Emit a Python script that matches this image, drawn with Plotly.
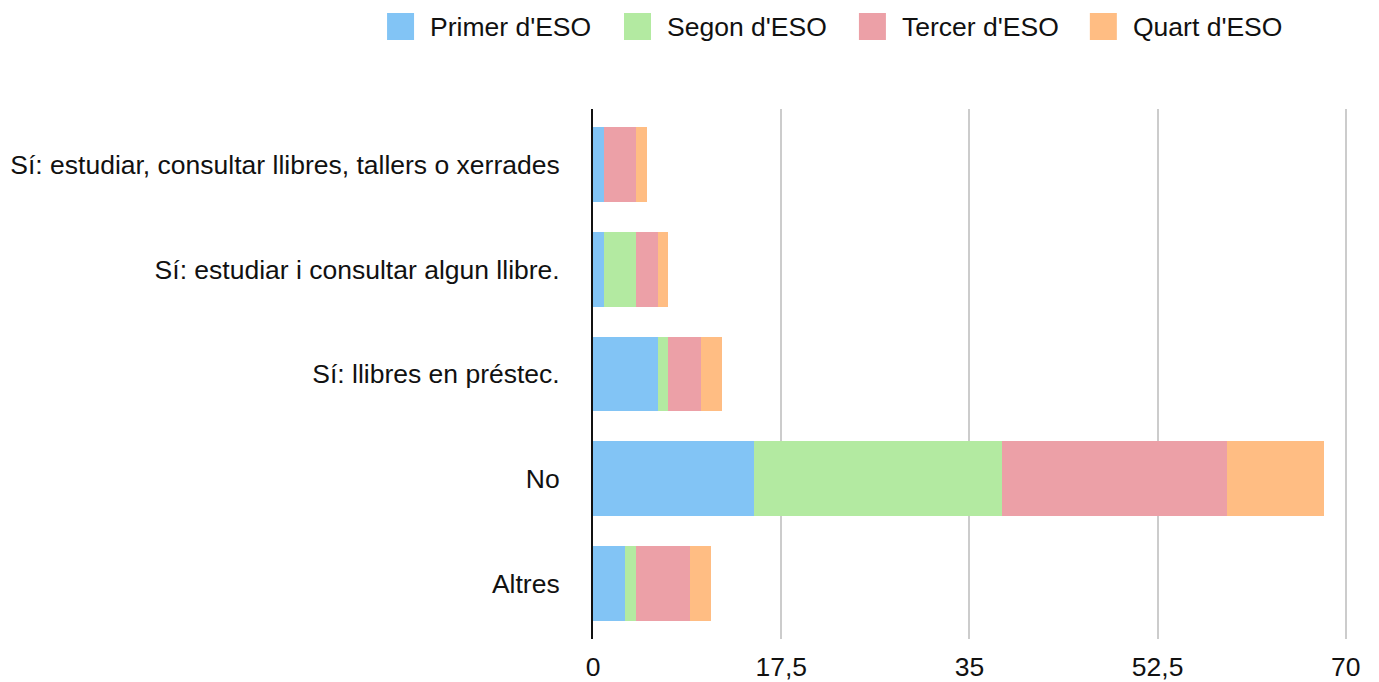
import plotly.graph_objects as go

# categories (top to bottom) and values per course
categories = [
    "Sí: estudiar, consultar llibres, tallers o xerrades",
    "Sí: estudiar i consultar algun llibre.",
    "Sí: llibres en préstec.",
    "No",
    "Altres",
]
series_names = ["Primer d'ESO", "Segon d'ESO", "Tercer d'ESO", "Quart d'ESO"]
primer = [1, 1, 6, 15, 3]
segon = [0, 3, 1, 23, 1]
tercer = [3, 2, 3, 21, 5]
quart = [1, 1, 2, 9, 2]
tick_vals = [0, 17.5, 35, 52.5, 70]
tick_text = ["0", "17,5", "35", "52,5", "70"]

colors = ["#82C4F5", "#B3EAA1", "#ECA0A7", "#FFBD83"]
FONT = "Liberation Sans, Arial, Helvetica, sans-serif"
FS = 26.5

# page has an 8px body margin, so work in figure pixels = screen - 8
OFF = 8
W, H = 1379 - OFF, 682 - OFF
X_MAX = 70.3  # a bit past 70 so the last gridline is not clipped
L, T, B = 593 - OFF, 109 - OFF, 639 - OFF
R = L + (1346 - 593) * X_MAX / 70

fig = go.Figure()
for name, vals, col in zip(series_names, [primer, segon, tercer, quart], colors):
    fig.add_trace(go.Bar(
        y=categories, x=vals, name=name, orientation="h",
        marker=dict(color=col, line=dict(width=0)),
        showlegend=False,
    ))

# hand-drawn legend (big square swatches like the original)
def px_x(p):
    return (p - OFF - L) / (R - L)

def px_y(p):
    return (B - (p - OFF)) / (B - T)

swatch_x = [387, 624, 859, 1090]
for name, col, sx in zip(series_names, colors, swatch_x):
    fig.add_shape(type="rect", xref="paper", yref="paper",
                  x0=px_x(sx), x1=px_x(sx + 27), y0=px_y(40), y1=px_y(13),
                  fillcolor=col, line=dict(width=0))
    fig.add_annotation(xref="paper", yref="paper", x=px_x(sx + 41), y=px_y(27),
                       text=name, showarrow=False, xanchor="left", yanchor="middle",
                       font=dict(size=FS, color="#111", family=FONT))

fig.update_layout(
    width=W, height=H,
    barmode="stack", bargap=0.287,
    plot_bgcolor="white", paper_bgcolor="white",
    margin=dict(l=L, r=W - R, t=T, b=H - B, autoexpand=False),
    font=dict(family=FONT, size=FS, color="#111"),
)
fig.update_xaxes(
    range=[0, X_MAX], tickvals=tick_vals, ticktext=tick_text,
    showgrid=True, gridcolor="#CCCCCC", gridwidth=1.5,
    zeroline=False, showline=False, ticklabelstandoff=9,
)
fig.update_yaxes(
    range=[len(categories) - 0.47, -0.53], showgrid=False,
    showline=True, linecolor="#111", linewidth=2,
    ticks="", ticklabelstandoff=26,
)

fig.write_html("out.html")
